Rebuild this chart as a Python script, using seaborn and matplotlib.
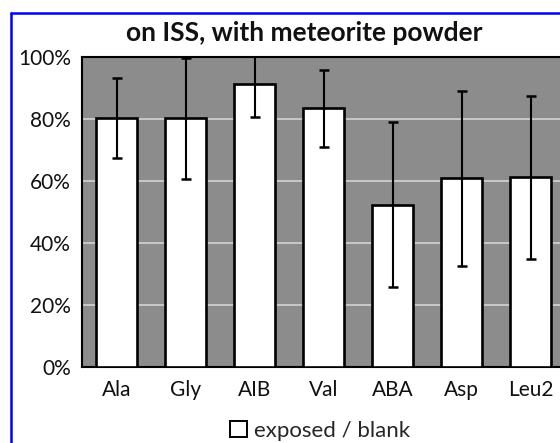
import matplotlib
matplotlib.use("Agg")
import matplotlib.pyplot as plt
import seaborn as sns
import pandas as pd
from matplotlib.patches import Patch
from matplotlib.lines import Line2D

categories = ["Ala", "Gly", "AIB", "Val", "ABA", "Asp", "Leu2"]
ratio = [0.803, 0.802, 0.912, 0.834, 0.524, 0.609, 0.612]
err = [0.128, 0.195, 0.106, 0.124, 0.265, 0.282, 0.262]
yticks = [0, 0.2, 0.4, 0.6, 0.8, 1.0]
ytick_labels = ["0%", "20%", "40%", "60%", "80%", "100%"]

sns.set_theme(style="white")
plt.rcParams["font.family"] = ["Lato", "DejaVu Sans"]

df = pd.DataFrame({"cat": categories, "val": ratio})

fig = plt.figure(figsize=(5.6, 4.43), dpi=100)
ax = fig.add_axes([82/560, 1-367/443, 483/560, 310/443])
ax.set_facecolor("#8c8c8c")

sns.barplot(data=df, x="cat", y="val", order=categories, color="white",
            edgecolor="black", linewidth=1.9, width=0.6, saturation=1,
            errorbar=None, ax=ax, zorder=3)
ax.errorbar(range(len(categories)), ratio, yerr=err, fmt="none",
            ecolor="black", elinewidth=1.5, capsize=3.5, capthick=1.8, zorder=4)

ax.set_ylim(0, 1)
ax.set_xlim(-0.5, 6.5)
ax.set_yticks(yticks)
ax.set_yticklabels(ytick_labels)
ax.yaxis.grid(True, color="#d4d4d4", linewidth=1.2, zorder=1)
ax.set_axisbelow(True)
ax.tick_params(axis="both", length=0, labelsize=15, colors="#111111")
ax.tick_params(axis="y", pad=8)
ax.tick_params(axis="x", pad=9)
ax.set_xlabel("")
ax.set_ylabel("")
for s in ["top", "left", "bottom", "right"]:
    ax.spines[s].set_color("black")
    ax.spines[s].set_linewidth(1.5)

fig.text(304/560, 1-33/443, "on ISS, with meteorite powder", ha="center",
         va="center", fontsize=19, fontweight="bold", color="#111111")

handle = Patch(facecolor="white", edgecolor="black", linewidth=1.4)
fig.legend([handle], ["exposed / blank"], loc="center",
           bbox_to_anchor=(320/560, 1-431/443), frameon=False, fontsize=16,
           handlelength=0.75, handleheight=0.75, handletextpad=0.3,
           borderpad=0.0)

fig.add_artist(Line2D([10.5/560, 10.5/560], [-0.05, 1-13/443], color="blue",
                      linewidth=1.8, transform=fig.transFigure))
fig.add_artist(Line2D([10.5/560, 1.05], [1-13/443, 1-13/443], color="blue",
                      linewidth=1.8, transform=fig.transFigure))

fig.savefig("out.png", dpi=100)
